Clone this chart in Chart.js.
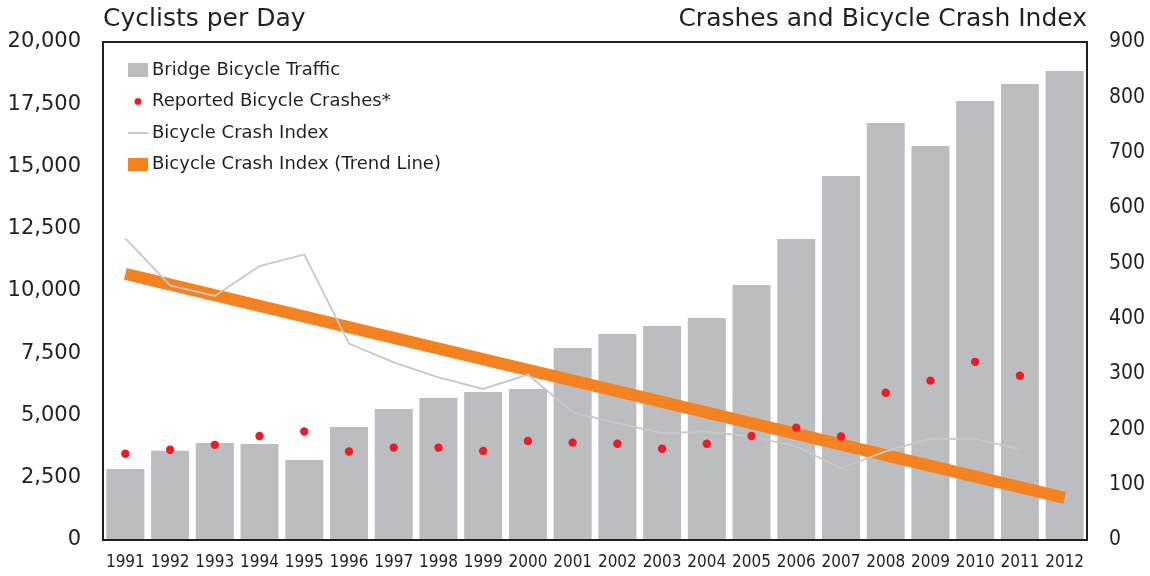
<!DOCTYPE html>
<html>
<head>
<meta charset="utf-8">
<script src="https://cdn.jsdelivr.net/npm/chart.js@4"></script>
<style>
  html, body { margin: 0; padding: 0; background: #ffffff; }
  #wrap { width: 1150px; height: 576px; }
</style>
</head>
<body>
<div id="wrap"><canvas id="c" width="1150" height="576"></canvas></div>
<script>
// ---- data ----
const years = ['1991','1992','1993','1994','1995','1996','1997','1998','1999','2000','2001',
               '2002','2003','2004','2005','2006','2007','2008','2009','2010','2011','2012'];
const bridgeTraffic = [2850, 3580, 3900, 3860, 3210, 4540, 5260, 5700, 5940, 6060, 7710,
                       8270, 8590, 8920, 10240, 12090, 14620, 16750, 15820, 17630, 18310, 18840];
const reportedCrashes = [156, 163, 172, 188, 196, 160, 167, 167, 161, 179, 176,
                         174, 165, 174, 188, 203, 187, 266, 288, 322, 297, null];
const crashIndex = [545, 460, 441, 495, 516, 355, 321, 294, 273, 299, 231,
                    211, 193, 196, 187, 169, 130, 160, 183, 183, 164, null];
const trendLine = [481, null, null, null, null, null, null, null, null, null, null,
                   null, null, null, null, null, null, null, null, null, null, 76];
const leftTickLabels = ['0','2,500','5,000','7,500','10,000','12,500','15,000','17,500','20,000'];
const rightTickLabels = ['0','100','200','300','400','500','600','700','800','900'];
const seriesLabels = ['Bridge Bicycle Traffic', 'Reported Bicycle Crashes*', 'Bicycle Crash Index',
                      'Bicycle Crash Index (Trend Line)'];
const leftTitle = 'Cyclists per Day';
const rightTitle = 'Crashes and Bicycle Crash Index';

// ---- styles ----
const BAR = '#BCBDC0';
const RED = '#ED1C24';
const GRAY = '#C8C8C8';
const ORANGE = '#F58220';
const TXT = '#231F20';

function swatch(w, h, draw) {
  const c = document.createElement('canvas');
  c.width = w; c.height = h;
  draw(c.getContext('2d'), w, h);
  return c;
}
const legendIcons = [
  swatch(20, 14, (x, w, h) => { x.fillStyle = BAR; x.fillRect(0, 0, w, h); }),
  swatch(20, 14, (x, w, h) => { x.fillStyle = RED; x.beginPath(); x.arc(w / 2, h / 2, 3.5, 0, Math.PI * 2); x.fill(); }),
  swatch(20, 2, (x, w, h) => { x.fillStyle = GRAY; x.fillRect(0, 0, w, h); }),
  swatch(20, 13, (x, w, h) => { x.fillStyle = ORANGE; x.fillRect(0, 0, w, h); })
];

const boxBorder = {
  id: 'boxBorder',
  afterDatasetsDraw(chart) {
    const a = chart.chartArea, ctx = chart.ctx;
    ctx.save();
    ctx.strokeStyle = TXT;
    ctx.lineWidth = 2;
    ctx.strokeRect(a.left, a.top, a.right - a.left, a.bottom - a.top);
    ctx.restore();
  }
};
const legendShift = {
  id: 'legendShift',
  afterLayout(chart) {
    const l = chart.legend, a = chart.chartArea;
    if (l) { l.left = a.left + 16.5; l.top = a.top + 5.5; }
  }
};

new Chart(document.getElementById('c'), {
  data: {
    labels: years,
    datasets: [
      { type: 'bar', label: seriesLabels[0], data: bridgeTraffic, backgroundColor: BAR,
        barPercentage: 0.85, categoryPercentage: 1, yAxisID: 'y', order: 4 },
      { type: 'line', label: seriesLabels[1], data: reportedCrashes, showLine: false,
        pointRadius: 4.2, pointBackgroundColor: RED, pointBorderWidth: 0, borderColor: RED,
        backgroundColor: RED, yAxisID: 'y1', order: 1 },
      { type: 'line', label: seriesLabels[2], data: crashIndex, borderColor: GRAY, borderWidth: 1.8,
        pointRadius: 0, tension: 0, yAxisID: 'y1', order: 2 },
      { type: 'line', label: seriesLabels[3], data: trendLine, borderColor: ORANGE, borderWidth: 12,
        pointRadius: 0, spanGaps: true, borderCapStyle: 'butt', yAxisID: 'y1', order: 3 }
    ]
  },
  options: {
    responsive: false,
    animation: false,
    events: [],
    layout: { padding: 0 },
    scales: {
      x: {
        type: 'category', offset: true,
        grid: { display: false, drawTicks: false }, border: { display: false },
        ticks: { autoSkip: false, maxRotation: 0, minRotation: 0, padding: 12, color: TXT,
                 font: { family: "'DejaVu Sans Condensed', 'DejaVu Sans', sans-serif", size: 17 } },
        afterFit(s) { s.height = 36; }
      },
      y: {
        position: 'left', min: 0, max: 20000,
        grid: { display: false, drawTicks: false }, border: { display: false },
        ticks: { stepSize: 2500, padding: 22, color: TXT,
                 font: { family: "'DejaVu Sans', sans-serif", size: 21 },
                 callback: (v, i) => leftTickLabels[i] },
        afterFit(s) { s.width = 103; }
      },
      y1: {
        position: 'right', min: 0, max: 900,
        grid: { display: false, drawTicks: false }, border: { display: false },
        ticks: { stepSize: 100, padding: 22, color: TXT,
                 font: { family: "'DejaVu Sans Condensed', 'DejaVu Sans', sans-serif", size: 21 },
                 callback: (v, i) => rightTickLabels[i] },
        afterFit(s) { s.width = 63; }
      }
    },
    plugins: {
      tooltip: { enabled: false },
      title: {
        display: true, text: leftTitle, align: 'start', fullSize: false, color: TXT,
        font: { family: "'DejaVu Sans', sans-serif", size: 25, weight: 'normal', lineHeight: 1.2 },
        padding: { top: 4, bottom: 8 }
      },
      subtitle: {
        display: true, text: rightTitle, align: 'end', fullSize: false, color: TXT,
        font: { family: "'DejaVu Sans', sans-serif", size: 25, weight: 'normal', lineHeight: 1.2 },
        padding: { top: -38, bottom: 8 }
      },
      legend: {
        display: true, position: 'chartArea', align: 'start',
        labels: {
          usePointStyle: true, pointStyleWidth: 10, padding: 13.5, color: TXT,
          font: { family: "'DejaVu Sans', sans-serif", size: 18 },
          generateLabels(chart) {
            return chart.data.datasets.map((ds, i) => ({
              text: ds.label, pointStyle: legendIcons[i], fontColor: TXT,
              fillStyle: 'transparent', strokeStyle: 'transparent', lineWidth: 0,
              hidden: false, datasetIndex: i
            }));
          }
        }
      }
    }
  },
  plugins: [boxBorder, legendShift]
});
</script>
</body>
</html>
